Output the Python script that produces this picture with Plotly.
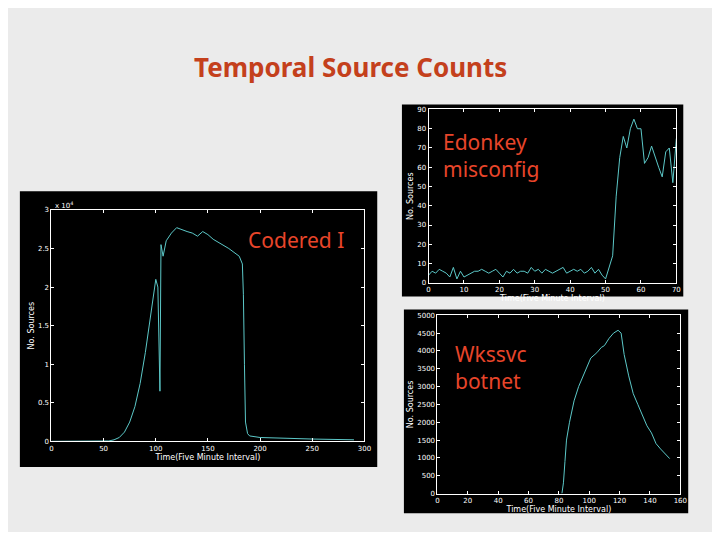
import plotly.graph_objects as go

title = "Temporal Source Counts"

cr_x = [0,50,55,60,65,70,75,80,85,90,95,100,102,103,104,105,107,110,115,120,125,130,135,140,145,150,155,160,165,170,175,180,183,184,185,186,188,190,200,220,250,290]
cr_y = [0,0,0.005,0.02,0.05,0.12,0.25,0.45,0.75,1.15,1.6,2.1,2.0,1.2,0.65,2.55,2.4,2.6,2.7,2.77,2.74,2.72,2.7,2.66,2.72,2.68,2.62,2.58,2.55,2.5,2.45,2.4,2.3,1.9,1.0,0.25,0.1,0.07,0.05,0.04,0.03,0.02]

ed_x = list(range(0, 71))
ed_y = [4,6,5,7,6,5,3,8,2,6,3,4,5,6,6,7,6,5,6,7,5,3,6,5,7,5,6,6,5,8,6,7,5,7,6,5,6,7,8,5,6,7,6,7,5,6,8,5,7,4,2,8,14,45,65,76,70,80,85,80,80,62,65,71,65,60,55,68,70,52,75]

wk_x = [82,83,84,85,87,90,93,96,99,101,105,108,110,113,116,119,121,123,126,129,132,135,138,141,144,147,150,153]
wk_y = [0,300,900,1500,2000,2600,3000,3300,3600,3800,3950,4100,4150,4350,4500,4580,4500,3900,3300,2800,2500,2200,1900,1700,1400,1250,1100,980]

LINE = "#5cc8c8"
fig = go.Figure()
fig.add_trace(go.Scatter(x=cr_x, y=cr_y, mode="lines", line=dict(color=LINE, width=1), xaxis="x", yaxis="y"))
fig.add_trace(go.Scatter(x=ed_x, y=ed_y, mode="lines", line=dict(color=LINE, width=1), xaxis="x2", yaxis="y2"))
fig.add_trace(go.Scatter(x=wk_x, y=wk_y, mode="lines", line=dict(color=LINE, width=1), xaxis="x3", yaxis="y3"))

def ax(domain, rng, dt, anchor, title=None):
    d = dict(domain=domain, range=rng, dtick=dt, anchor=anchor, showgrid=False, zeroline=False,
             showline=True, linecolor="white", linewidth=1, mirror="ticks", ticks="inside", ticklen=3,
             tickcolor="white", tickfont=dict(color="white", size=7, family="DejaVu Sans"))
    if title:
        d["title"] = dict(text=title, font=dict(color="white", size=8, family="DejaVu Sans"), standoff=2)
    return d

OFF = 8
W, H = 720 - OFF * 2, 540 - OFF * 2
def px(x): return (x - OFF) / W
def py(y): return 1 - (y - OFF) / H

shapes = []
for (x0, y0, x1, y1) in [(18,190,380,470),(405,102,690,297),(407,310,695,517)]:
    shapes.append(dict(type="rect", xref="paper", yref="paper", x0=px(x0), x1=px(x1), y0=py(y1), y1=py(y0),
                       fillcolor="black", line=dict(width=0), layer="below"))

fig.update_layout(
    width=W, height=H, margin=dict(l=0, r=0, t=0, b=0), showlegend=False,
    paper_bgcolor="#ebebeb", plot_bgcolor="black", shapes=shapes,
    xaxis=ax([px(50), px(367)], [0, 300], 50, "y", "Time(Five Minute Interval)"),
    yaxis=ax([py(444), py(209)], [0, 3], 0.5, "x", "No. Sources"),
    xaxis2=ax([px(432), px(683)], [0, 70], 10, "y2", "Time(Five Minute Interval)"),
    yaxis2=ax([py(283), py(107)], [0, 90], 10, "x2", "No. Sources"),
    xaxis3=ax([px(441), px(687)], [0, 160], 20, "y3", "Time(Five Minute Interval)"),
    yaxis3=ax([py(497), py(316)], [0, 5000], 500, "x3", "No. Sources"),
)
RED = "#e8452a"
ann = [
    dict(text="<b>" + title + "</b>", x=px(353), y=py(64), font=dict(size=26, color="#c4401c", family="Comic Sans MS, Noto Sans")),
    dict(text="x 10<sup>4</sup>", x=px(63), y=py(204), font=dict(size=7, color="white", family="DejaVu Sans")),
    dict(text="Codered I", x=px(298), y=py(240), font=dict(size=21, color=RED, family="Comic Sans MS, Noto Sans")),
    dict(text="Edonkey<br>misconfig", x=px(445), y=py(154), xanchor="left", align="left", font=dict(size=21, color=RED, family="Comic Sans MS, Noto Sans")),
    dict(text="Wkssvc<br>botnet", x=px(457), y=py(369), xanchor="left", align="left", font=dict(size=21, color=RED, family="Comic Sans MS, Noto Sans")),
]
for a in ann:
    a.update(xref="paper", yref="paper", showarrow=False, yanchor="middle")
    a.setdefault("xanchor", "center")
fig.update_layout(annotations=ann)
fig.write_html("out.html")
